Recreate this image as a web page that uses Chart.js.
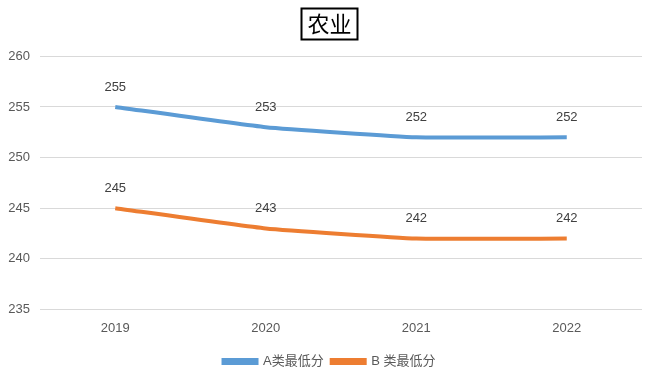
<!DOCTYPE html>
<html><head><meta charset="utf-8">
<script src="https://cdn.jsdelivr.net/npm/chart.js@4/dist/chart.umd.min.js"></script>
<style>html,body{margin:0;padding:0;background:#fff}#wrap{width:659px;height:380px}</style>
</head><body><div id="wrap"><canvas id="c" width="659" height="380"></canvas></div>
<script>
const titleText = '农业';
const categories = ['2019', '2020', '2021', '2022'];
const seriesNames = ['A类最低分', 'B 类最低分'];
const seriesA = [255, 253, 252, 252];
const seriesB = [245, 243, 242, 242];
const yTicks = [235, 240, 245, 250, 255, 260];

const FONT = '"Liberation Sans", Arial, "Noto Sans CJK SC", sans-serif';

const titleBox = {
  id: 'titleBox',
  afterDraw(chart) {
    const t = chart.titleBlock;
    const ctx = chart.ctx;
    ctx.save();
    ctx.font = '22px ' + FONT;
    const w = ctx.measureText(titleText).width;
    const cx = (t.left + t.right) / 2;
    ctx.strokeStyle = '#000';
    ctx.lineWidth = 2;
    ctx.strokeRect(Math.round(cx - w / 2 - 6) + 0.5, 8.5, Math.round(w + 12), 31);
    ctx.restore();
  }
};

const dataLabels = {
  id: 'dataLabels',
  afterDatasetsDraw(chart) {
    const ctx = chart.ctx;
    ctx.save();
    ctx.font = '13px ' + FONT;
    ctx.fillStyle = '#404040';
    ctx.textAlign = 'center';
    ctx.textBaseline = 'middle';
    chart.data.datasets.forEach((ds, i) => {
      const meta = chart.getDatasetMeta(i);
      meta.data.forEach((pt, j) => {
        ctx.fillText(String(ds.data[j]), pt.x, pt.y - 20);
      });
    });
    ctx.restore();
  }
};

new Chart(document.getElementById('c'), {
  type: 'line',
  data: {
    labels: categories,
    datasets: [
      { label: seriesNames[0], data: seriesA, borderColor: '#5B9BD5', backgroundColor: '#5B9BD5', borderWidth: 4, pointRadius: 0, tension: 0.12, fill: false },
      { label: seriesNames[1], data: seriesB, borderColor: '#ED7D31', backgroundColor: '#ED7D31', borderWidth: 4, pointRadius: 0, tension: 0.12, fill: false }
    ]
  },
  options: {
    responsive: false,
    animation: false,
    layout: { padding: { left: 8, right: 8, top: 0, bottom: 2 } },
    plugins: {
      title: { display: true, text: titleText, color: '#000', font: { size: 22, family: FONT, weight: 'normal' }, padding: { top: 13, bottom: 17 } },
      legend: {
        position: 'bottom',
        labels: { boxWidth: 33, boxHeight: 3, color: '#595959', font: { size: 13, family: FONT }, padding: 8 }
      },
      tooltip: { enabled: false }
    },
    scales: {
      x: {
        offset: true,
        grid: { display: false, drawTicks: false },
        border: { display: false },
        ticks: { color: '#595959', font: { size: 13, family: FONT }, padding: 11 }
      },
      y: {
        min: 235, max: 260,
        afterBuildTicks(scale) { scale.ticks = yTicks.map(v => ({ value: v })); },
        afterFit(scale) { scale.width = 32; },
        grid: { color: '#d9d9d9', drawTicks: false },
        border: { display: false },
        ticks: { color: '#595959', font: { size: 13, family: FONT }, padding: 10 }
      },
      yR: {
        position: 'right',
        min: 235, max: 260,
        afterFit(scale) { scale.width = 9; },
        grid: { display: false, drawTicks: false },
        border: { display: false },
        ticks: { display: false }
      }
    }
  },
  plugins: [titleBox, dataLabels]
});
</script></body></html>
